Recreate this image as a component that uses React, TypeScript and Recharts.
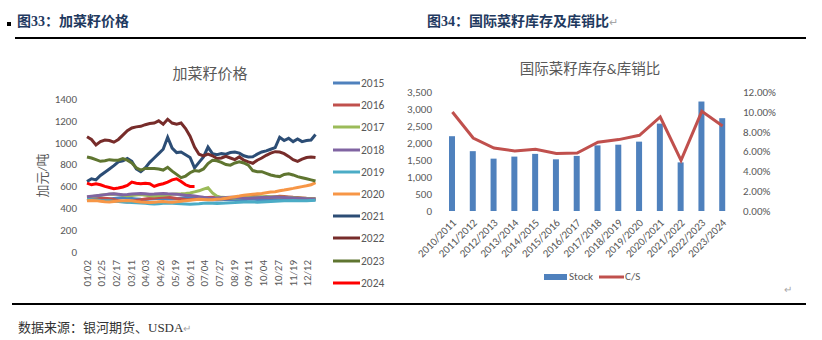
import React from "react";
import { LineChart, Line, XAxis, YAxis, ComposedChart, Bar } from "recharts";

// weekly samples of the daily price chart (2024 calendar, leap year)
const priceDates = [
  "01/02", "01/09", "01/16", "01/23", "01/30", "02/06", "02/13", "02/20", "02/27", "03/05",
  "03/12", "03/19", "03/26", "04/02", "04/09", "04/16", "04/23", "04/30", "05/07", "05/14",
  "05/21", "05/28", "06/04", "06/11", "06/18", "06/25", "07/02", "07/09", "07/16", "07/23",
  "07/30", "08/06", "08/13", "08/20", "08/27", "09/03", "09/10", "09/17", "09/24", "10/01",
  "10/08", "10/15", "10/22", "10/29", "11/05", "11/12", "11/19", "11/26", "12/03", "12/10",
  "12/17", "12/24",
];
const priceTicks = [
  "01/02", "01/25", "02/17", "03/11", "04/03", "04/26", "05/19", "06/11",
  "07/04", "07/27", "08/19", "09/11", "10/04", "10/27", "11/19", "12/12",
];

const p2015 = [490, 492, 498, 495, 488, 484, 490, 494, 498, 494, 490, 486, 482, 480, 484, 488, 492, 490, 486, 484, 488, 494, 498, 500, 496, 490, 484, 480, 478, 476, 478, 482, 480, 476, 474, 478, 482, 484, 480, 478, 476, 480, 484, 488, 486, 482, 480, 478, 476, 474, 476, 478];
const p2016 = [470, 478, 485, 490, 492, 488, 480, 470, 462, 458, 465, 472, 478, 485, 490, 495, 498, 502, 500, 496, 490, 485, 480, 478, 482, 488, 494, 498, 500, 496, 490, 488, 492, 498, 502, 505, 508, 510, 506, 500, 498, 502, 506, 510, 508, 504, 500, 498, 495, 492, 490, 488];
const p2017 = [500, 505, 512, 520, 525, 528, 530, 526, 520, 515, 518, 522, 525, 520, 515, 512, 516, 520, 524, 528, 530, 532, 535, 540, 550, 560, 575, 588, 540, 510, 500, 498, 496, 494, 496, 498, 500, 502, 504, 506, 508, 506, 504, 502, 500, 498, 496, 494, 492, 490, 488, 486];
const p2018 = [505, 510, 515, 520, 525, 530, 532, 528, 524, 526, 530, 534, 536, 532, 528, 530, 534, 536, 532, 530, 528, 525, 520, 516, 512, 506, 500, 495, 492, 494, 496, 498, 502, 500, 498, 495, 492, 494, 496, 498, 500, 502, 504, 500, 498, 496, 494, 492, 490, 488, 486, 485];
const p2019 = [480, 478, 475, 472, 470, 468, 465, 462, 458, 455, 452, 450, 448, 445, 442, 440, 442, 445, 448, 446, 444, 442, 440, 438, 440, 442, 445, 448, 446, 444, 446, 448, 450, 452, 455, 458, 460, 458, 456, 458, 460, 462, 464, 466, 468, 470, 472, 470, 468, 470, 472, 474];
const p2020 = [468, 472, 470, 465, 460, 458, 462, 466, 470, 472, 468, 462, 458, 455, 452, 456, 460, 462, 458, 456, 460, 464, 470, 474, 478, 482, 480, 478, 478, 482, 486, 492, 500, 506, 512, 520, 524, 528, 532, 536, 542, 548, 552, 560, 567, 575, 582, 590, 598, 606, 615, 635];
const p2021 = [645, 670, 660, 700, 730, 760, 790, 825, 835, 855, 830, 760, 735, 770, 820, 860, 900, 940, 1050, 950, 910, 915, 890, 865, 770, 820, 870, 960, 900, 890, 900, 895, 910, 915, 905, 880, 870, 872, 895, 915, 925, 940, 955, 1050, 1020, 1040, 1010, 1035, 1010, 1020, 1025, 1075];
const p2022 = [1055, 1030, 980, 1010, 1025, 1020, 1005, 1030, 1070, 1110, 1135, 1145, 1150, 1165, 1175, 1180, 1200, 1170, 1215, 1180, 1170, 1180, 1130, 1060, 960, 895, 880, 895, 880, 855, 860, 875, 860, 845, 870, 840, 825, 812, 840, 860, 885, 905, 918, 915, 900, 875, 845, 830, 850, 865, 870, 865];
const p2023 = [870, 860, 845, 830, 835, 845, 840, 840, 855, 840, 815, 770, 750, 765, 765, 765, 760, 750, 775, 740, 710, 680, 695, 725, 745, 740, 760, 810, 840, 835, 820, 800, 795, 815, 825, 815, 795, 745, 735, 735, 720, 705, 695, 690, 710, 715, 705, 690, 680, 670, 660, 650];
const p2024 = [630, 615, 625, 615, 600, 590, 580, 585, 595, 610, 640, 630, 625, 630, 625, 600, 615, 625, 640, 660, 670, 645, 615, 600, 600];

const priceSeries = [
  { name: "2015", color: "#4F81BD", values: p2015 },
  { name: "2016", color: "#C0504D", values: p2016 },
  { name: "2017", color: "#9BBB59", values: p2017 },
  { name: "2018", color: "#8064A2", values: p2018 },
  { name: "2019", color: "#4BACC6", values: p2019 },
  { name: "2020", color: "#F79646", values: p2020 },
  { name: "2021", color: "#2C4D75", values: p2021 },
  { name: "2022", color: "#772C2A", values: p2022 },
  { name: "2023", color: "#5F7530", values: p2023 },
  { name: "2024", color: "#FF0000", values: p2024 },
];

const seasons = [
  "2010/2011", "2011/2012", "2012/2013", "2013/2014", "2014/2015", "2015/2016", "2016/2017",
  "2017/2018", "2018/2019", "2019/2020", "2020/2021", "2021/2022", "2022/2023", "2023/2024",
];
const stock = [2200, 1760, 1540, 1600, 1680, 1520, 1620, 1930, 1950, 2040, 2570, 1430, 3220, 2730];
const csRatio = [0.0998, 0.0736, 0.0635, 0.0605, 0.0622, 0.0579, 0.0585, 0.0693, 0.072, 0.0763, 0.0948, 0.0511, 0.1005, 0.0857];

const stockTicks = [0, 500, 1000, 1500, 2000, 2500, 3000, 3500];
const ratioTicks = [0, 0.02, 0.04, 0.06, 0.08, 0.1, 0.12];
const priceYTicks = [0, 200, 400, 600, 800, 1000, 1200, 1400];

const toDay = (md: string) => {
  const [m, d] = md.split("/").map(Number);
  return Math.round((Date.UTC(2024, m - 1, d) - Date.UTC(2024, 0, 2)) / 86400000);
};

const priceData = priceDates.map((d, i) => {
  const row: Record<string, number | null> = { day: toDay(d) };
  priceSeries.forEach((s) => {
    row[s.name] = s.values[i] ?? null;
  });
  return row;
});

const stockData = seasons.map((s, i) => ({ season: s, stock: stock[i], cs: csRatio[i] }));

const chartFont = 'Carlito, Lato, "Noto Sans CJK SC", sans-serif';
const gray = "#595959";
const headFont = '"Liberation Serif", "Noto Sans CJK SC", serif';

function DateTick({ x, y, payload }: any) {
  const label = priceTicks.find((t) => toDay(t) === payload.value) ?? "";
  return (
    <text x={x} y={y} transform={`rotate(-90 ${x} ${y})`} textAnchor="end" dominantBaseline="central"
      fill={gray} fontSize={11} fontFamily={chartFont}>
      {label}
    </text>
  );
}

function SeasonTick({ x, y, payload }: any) {
  return (
    <text x={x + 2} y={y + 2} transform={`rotate(-45 ${x + 2} ${y + 2})`} textAnchor="end" dominantBaseline="central"
      fill={gray} fontSize={11} fontFamily={chartFont}>
      {payload.value}
    </text>
  );
}

export default function App() {
  const abs = (style: React.CSSProperties): React.CSSProperties => ({ position: "absolute", ...style });
  return (
    <div style={{ position: "absolute", left: 0, top: 0, width: 822, height: 340, background: "#fff", overflow: "hidden" }}>
      {/* headers */}
      <div style={abs({ left: 7, top: 22, width: 4, height: 4, background: "#000" })} />
      <div style={abs({ left: 17, top: 10, fontFamily: headFont, fontWeight: "bold", fontSize: 14, color: "#1F3A60", whiteSpace: "nowrap" })}>
        图33：加菜籽价格
      </div>
      <div style={abs({ left: 427, top: 10, fontFamily: headFont, fontWeight: "bold", fontSize: 14, color: "#1F3A60", whiteSpace: "nowrap" })}>
        图34：国际菜籽库存及库销比<span style={{ color: "#A6A6A6", fontWeight: "normal", fontSize: 11 }}>↵</span>
      </div>
      <div style={abs({ left: 15, top: 37, width: 791, height: 1.5, background: "#000" })} />

      {/* left chart */}
      <div style={abs({ left: 0, top: 0 })}>
        <LineChart width={411} height={300} data={priceData} margin={{ top: 99, right: 91, bottom: 8, left: 0 }}>
          <XAxis dataKey="day" type="number" domain={[0, 364]} ticks={priceTicks.map(toDay)} interval={0}
            height={40} axisLine={false} tickLine={false} tick={<DateTick />} />
          <YAxis domain={[0, 1400]} ticks={priceYTicks} width={87} axisLine={false} tickLine={false} tickMargin={4}
            tick={{ fill: gray, fontSize: 11, fontFamily: chartFont }}
            label={{ value: "加元/吨", angle: -90, position: "insideLeft", offset: 42,
              style: { textAnchor: "middle", fill: gray, fontSize: 13, fontFamily: chartFont } }} />
          {priceSeries.map((s) => (
            <Line key={s.name} dataKey={s.name} stroke={s.color} strokeWidth={3} dot={false}
              type="linear" isAnimationActive={false} />
          ))}
        </LineChart>
      </div>
      <div style={abs({ left: 130, top: 62, width: 160, textAlign: "center", fontSize: 15, color: gray, fontFamily: chartFont })}>
        加菜籽价格
      </div>
      <div style={abs({ left: 333, top: 72 })}>
        {priceSeries.map((s) => (
          <div key={s.name} style={{ display: "flex", alignItems: "center", height: 22.2 }}>
            <svg width={27} height={4}><line x1={0} y1={2} x2={27} y2={2} stroke={s.color} strokeWidth={3} /></svg>
            <span style={{ marginLeft: 1, fontSize: 11.5, color: gray, fontFamily: chartFont }}>{s.name}</span>
          </div>
        ))}
      </div>

      {/* right chart */}
      <div style={abs({ left: 395, top: 0 })}>
        <ComposedChart width={427} height={300} data={stockData} margin={{ top: 92, right: 39, bottom: 39, left: 0 }}>
          <XAxis dataKey="season" interval={0} height={50} axisLine={false} tickLine={false} tick={<SeasonTick />} />
          <YAxis yAxisId="left" domain={[0, 3500]} ticks={stockTicks} width={47} axisLine={false} tickLine={false}
            tickMargin={4} tickFormatter={(v) => Number(v).toLocaleString("en-US")}
            tick={{ fill: gray, fontSize: 11, fontFamily: chartFont }} />
          <YAxis yAxisId="right" orientation="right" domain={[0, 0.12]} ticks={ratioTicks} width={50} axisLine={false}
            tickLine={false} tickMargin={4} tickFormatter={(v) => `${(Number(v) * 100).toFixed(2)}%`}
            tick={{ fill: gray, fontSize: 11, fontFamily: chartFont, textAnchor: "start" }} />
          <Bar yAxisId="left" dataKey="stock" fill="#4F81BD" barSize={6} isAnimationActive={false} />
          <Line yAxisId="right" dataKey="cs" stroke="#C0504D" strokeWidth={3} dot={false} type="linear"
            isAnimationActive={false} />
        </ComposedChart>
      </div>
      <div style={abs({ left: 490, top: 57, width: 200, textAlign: "center", fontSize: 14.5, color: gray, fontFamily: chartFont })}>
        国际菜籽库存&amp;库销比
      </div>
      <div style={abs({ left: 544, top: 270, display: "flex", alignItems: "center", fontSize: 11, color: gray, fontFamily: chartFont })}>
        <span style={{ display: "inline-block", width: 23, height: 6, background: "#4F81BD" }} />
        <span style={{ marginLeft: 2 }}>Stock</span>
        <svg width={25} height={4} style={{ marginLeft: 6 }}><line x1={0} y1={2} x2={25} y2={2} stroke="#C0504D" strokeWidth={3} /></svg>
        <span style={{ marginLeft: 1 }}>C/S</span>
      </div>
      <div style={abs({ left: 784, top: 284, fontSize: 10, color: "#A6A6A6" })}>↵</div>

      {/* footer */}
      <div style={abs({ left: 12, top: 303, width: 794, height: 1.5, background: "#000" })} />
      <div style={abs({ left: 18, top: 317, fontSize: 13, color: "#333", fontFamily: headFont, whiteSpace: "nowrap" })}>
        数据来源：银河期货、USDA<span style={{ color: "#A6A6A6", fontSize: 10 }}>↵</span>
      </div>
    </div>
  );
}
